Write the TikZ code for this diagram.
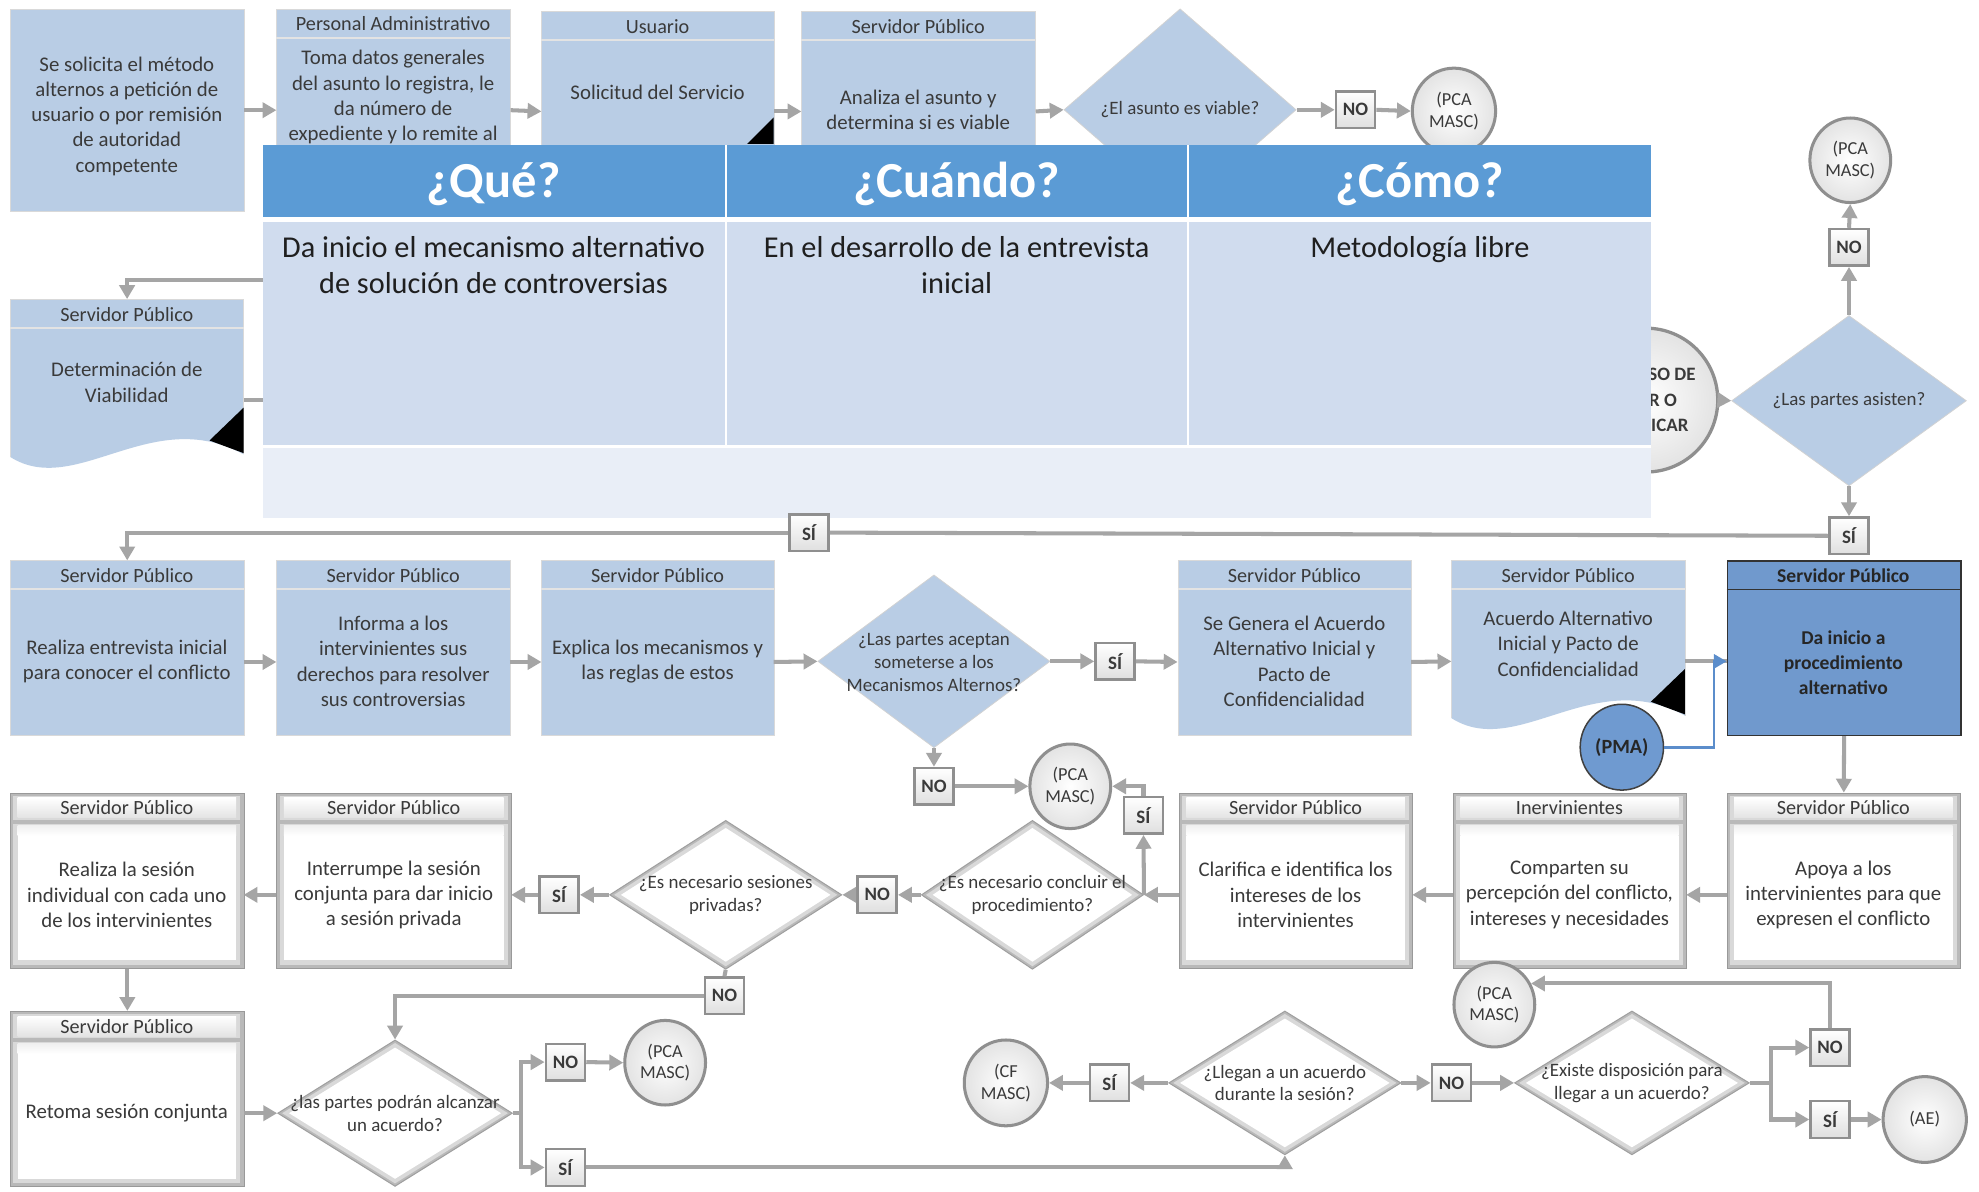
\documentclass[tikz,border=0pt]{standalone}
\usepackage{fontspec}
\setmainfont{Carlito}
\usetikzlibrary{arrows.meta,shapes.geometric,calc}

\definecolor{boxblue}{HTML}{B9CDE5}
\definecolor{hdrblue}{HTML}{5B9BD5}
\definecolor{cellblue}{HTML}{D0DCEE}
\definecolor{footblue}{HTML}{E9EEF7}
\definecolor{deepblue}{HTML}{7099CD}
\definecolor{pmablue}{HTML}{6F9AD0}
\definecolor{linkblue}{HTML}{5B8DCB}
\definecolor{arrowgray}{HTML}{A5A5A5}
\definecolor{txtgray}{HTML}{3A3A3A}
\definecolor{rimgray}{HTML}{8F8F8F}

\tikzset{
  flow/.style={draw=arrowgray, line width=3.2pt, -{Triangle[length=11pt,width=12pt]}},
  plain/.style={draw=arrowgray, line width=3.2pt},
  boxtext/.style={text=txtgray, font=\fontsize{16.5}{20}\selectfont, align=center, inner sep=0pt},
  hdrtext/.style={text=txtgray, font=\fontsize{16}{18}\selectfont, inner sep=0pt},
  dtext/.style={text=txtgray, font=\fontsize{15}{18}\selectfont, align=center, inner sep=0pt},
  tbltext/.style={text=black!88, font=\fontsize{24}{29}\selectfont, align=center, inner sep=0pt},
  tblhead/.style={rectangle, fill=hdrblue, inner sep=0pt, anchor=north west, minimum height=57pt},
  tblheadtext/.style={text=white, font=\bfseries\fontsize{40}{44}\selectfont, inner sep=0pt},
  tblcell/.style={rectangle, fill=cellblue, inner sep=0pt, anchor=north west, minimum height=176pt},
  tag/.style={rectangle, minimum width=31pt, minimum height=29pt, draw=rimgray, line width=2pt,
    top color=white, bottom color=gray!25, text=txtgray, font=\bfseries\fontsize{15}{17}\selectfont, inner sep=0pt},
  term/.style={ellipse, minimum width=64pt, minimum height=67pt, draw=rimgray, line width=2.4pt,
    inner color=white, outer color=gray!22, text=txtgray, font=\fontsize{14.5}{17}\selectfont,
    align=center, inner sep=0pt},
  bluediamond/.style={diamond, inner sep=0pt, fill=boxblue, draw=gray!35, line width=0.6pt},
}

% light blue process box with header band
% #1 name, #2 x1, #3 y1, #4 x2, #5 y2, #6 header, #7 text centre y, #8 body text
\newcommand\bluebox[8]{%
  \node[rectangle, fill=boxblue, draw=gray!30, line width=0.6pt, inner sep=0pt,
        minimum width={#4-#2}, minimum height={#5-#3}, anchor=north west] (#1) at (#2,#3) {};
  \draw[gray!22, line width=1.6pt] (#2,#3+23) -- (#4,#3+23);
  \node[hdrtext] (#1-h) at ({(#2+#4)/2},#3+12) {#6};
  \coordinate (#1-l) at (#2,{(#3+23+#5)/2});
  \coordinate (#1-r) at (#4,{(#3+23+#5)/2});
  \node[boxtext] (#1-t) at ({(#2+#4)/2},#7) {#8};
}

% light blue document box with wavy bottom and corner marker
% #1 name, #2 x1, #3 y1, #4 x2, #5 bottom of left edge, #6 header, #7 text centre y, #8 body text
\newcommand\docbox[8]{%
  \node[rectangle, inner sep=0pt, minimum width={#4-#2}, minimum height={#5-#3},
        anchor=north west] (#1) at (#2,#3) {};
  \fill[boxblue] (#2,#3) -- (#4,#3) -- (#4,#5-2)
     .. controls (#2+112,#5-42) and (#2+52,#5+33) .. (#2,#5) -- cycle;
  \draw[gray!30, line width=0.6pt] (#2,#5) -- (#2,#3) -- (#4,#3) -- (#4,#5-2);
  \draw[gray!22, line width=1.6pt] (#2,#3+23) -- (#4,#3+23);
  \fill[black] (#4,#5-39) -- (#4,#5-3) -- (#4-27,#5-13) -- cycle;
  \node[hdrtext] (#1-h) at ({(#2+#4)/2},#3+12) {#6};
  \node[boxtext] (#1-t) at ({(#2+#4)/2},#7) {#8};
}

% bevelled white process box with header band
% #1 name, #2 x1, #3 y1, #4 x2, #5 y2, #6 header, #7 body text
\newcommand\bevbox[7]{%
  \node[rectangle, fill=gray!55, draw=gray!80, line width=0.8pt, inner sep=0pt,
        minimum width={#4-#2}, minimum height={#5-#3}, anchor=north west] (#1) at (#2,#3) {};
  \fill[gray!30] (#2+2.5,#3+2.5) rectangle (#4-2.5,#5-2.5);
  \shade[top color=white, bottom color=gray!22] (#2+6,#3+4) rectangle (#4-6,#3+20);
  \fill[gray!55] (#2+2.5,#3+21.5) rectangle (#4-2.5,#3+24.5);
  \shade[top color=gray!12, bottom color=white] (#2+6,#3+26) rectangle (#4-6,#3+34);
  \fill[white] (#2+6,#3+34) rectangle (#4-6,#5-6);
  \node[hdrtext] (#1-h) at ({(#2+#4)/2},#3+12) {#6};
  \coordinate (#1-l) at (#2,{(#3+23+#5)/2});
  \coordinate (#1-r) at (#4,{(#3+23+#5)/2});
  \node[boxtext] (#1-t) at ({(#2+#4)/2},{(#3+23+#5)/2}) {#7};
}

% bevelled white decision diamond
% #1 name, #2 cx, #3 cy, #4 half width, #5 half height, #6 text
\newcommand\bevdiamond[6]{%
  \node[diamond, inner sep=0pt, minimum width={2*#4}, minimum height={2*#5},
        fill=gray!55, draw=gray!75, line width=0.8pt] (#1) at (#2,#3) {};
  \fill[gray!30] (#2-#4+3.6,#3) -- (#2,#3-#5+2.4) -- (#2+#4-3.6,#3) -- (#2,#3+#5-2.4) -- cycle;
  \fill[white] (#2-#4+9,#3) -- (#2,#3-#5+6) -- (#2+#4-9,#3) -- (#2,#3+#5-6) -- cycle;
  \node[dtext] (#1-t) at (#2,#3) {#6};
}

\begin{document}
\begin{tikzpicture}[x=1pt, y=-1pt]
\useasboundingbox (0,0) rectangle (1568,944);
\fill[white] (0,0) rectangle (1568,944);

% ---------- first row: request and viability ----------
\node[rectangle, fill=boxblue, draw=gray!30, line width=0.6pt, inner sep=0pt,
      minimum width=185pt, minimum height=160pt, anchor=north west] (A) at (8,7) {};
\node[boxtext] (A-t) at (100.5,92) {Se solicita el método\\alternos a petición de\\usuario o por remisión\\de autoridad\\competente};

\bluebox{B}{219}{7}{404}{167}{Personal Administrativo}{77}{Toma datos generales\\del asunto lo registra, le\\da número de\\expediente y lo remite al}
\bluebox{C}{429}{9}{613}{167}{Usuario}{73}{Solicitud del Servicio}
\fill[black] (613,93) -- (613,114) -- (592,114) -- cycle;
\bluebox{D}{635}{9}{820}{167}{Servidor Público}{87}{Analiza el asunto y\\determina si es viable}

\node[bluediamond, minimum width=184pt, minimum height=160pt] (D1) at (935,87) {};
\node[dtext] (D1-t) at (935,87) {¿El asunto es viable?};
\node[tag] (NO1) at (1074,87) {NO};
\node[term, minimum width=66pt, minimum height=68pt] (PCA1) at (1152,88) {(PCA\\MASC)};

\draw[flow] (A.east) -- (B.west);
\draw[flow] (B.east) -- (C.west);
\draw[flow] (C.east) -- (D.west);
\draw[flow] (D.east) -- (D1.west);
\draw[flow] (D1.east) -- (NO1.west);
\draw[flow] (NO1.east) -- (PCA1.west);

% summons circle, partly behind the table
\node[ellipse, minimum width=114pt, minimum height=114pt, draw=rimgray, line width=2.6pt,
      inner color=white, outer color=gray!22, text=txtgray, align=center, inner sep=0pt,
      font=\bfseries\fontsize{15}{20}\selectfont] (PROC) at (1304,317) {PROCESO DE\\CITAR O\\NOTIFICAR};

% ---------- what / when / how table ----------
\fill[white] (208,115) rectangle (1308,410);
\node[tblhead, minimum width=366pt] (Q1) at (208,115) {};
\node[tblhead, minimum width=364pt] (Q2) at (576,115) {};
\node[tblhead, minimum width=366pt] (Q3) at (942,115) {};
\node[tblheadtext] (Q1-t) at (391,146) {¿Qué?};
\node[tblheadtext] (Q2-t) at (758,146) {¿Cuándo?};
\node[tblheadtext] (Q3-t) at (1125,146) {¿Cómo?};
\node[tblcell, minimum width=366pt] (C1) at (208,176) {};
\node[tblcell, minimum width=364pt] (C2) at (576,176) {};
\node[tblcell, minimum width=366pt] (C3) at (942,176) {};
\node[tbltext, anchor=north] (C1-t) at (391,187) {Da inicio el mecanismo alternativo\\de solución de controversias};
\node[tbltext, anchor=north] (C2-t) at (758,187) {En el desarrollo de la entrevista\\inicial};
\node[tbltext, anchor=north] (C3-t) at (1125,187) {Metodología libre};
\node[rectangle, fill=footblue, inner sep=0pt, anchor=north west,
      minimum width=1100pt, minimum height=55pt] (FOOT) at (208,355) {};

% ---------- viability document and attendance ----------
\docbox{E}{8}{237}{193}{362}{Servidor Público}{303}{Determinación de\\Viabilidad}
\coordinate (tblL1) at (208,222);
\coordinate (tblL2) at (208,317);
\coordinate (E-r) at (193,317);
\draw[flow] (tblL1) -| (E.north);
\draw[plain] (E-r) -- (tblL2);

\node[bluediamond, minimum width=186pt, minimum height=135pt] (D2) at (1465,317.5) {};
\node[dtext] (D2-t) at (1465,317.5) {¿Las partes asisten?};
\node[tag] (NO2) at (1465,196) {NO};
\node[term] (PCA2) at (1466,127) {(PCA\\MASC)};
\node[tag] (SI2) at (1465,424.5) {SÍ};
\node[tag] (SI3) at (641,422) {SÍ};

\draw[flow] (PROC.east) -- (D2.west);
\draw[flow] (D2.north) -- (NO2.south);
\draw[flow] (NO2.north) -- (PCA2.south);
\draw[flow] (D2.south) -- (SI2.north);
\draw[plain] (SI2.west) -- (SI3.east);

% ---------- second row: initial interview ----------
\bluebox{F}{8}{444}{193}{582}{Servidor Público}{524}{Realiza entrevista inicial\\para conocer el conflicto}
\bluebox{G}{219}{444}{404}{582}{Servidor Público}{524}{Informa a los\\intervinientes sus\\derechos para resolver\\sus controversias}
\bluebox{H}{429}{444}{613}{582}{Servidor Público}{524}{Explica los mecanismos y\\las reglas de estos}
\node[bluediamond, minimum width=184pt, minimum height=137pt] (D3) at (740,524) {};
\node[dtext] (D3-t) at (740,525) {¿Las partes aceptan\\someterse a los\\Mecanismos Alternos?};
\node[tag] (SI4) at (883.5,524) {SÍ};
\bluebox{I}{933}{444}{1118}{582}{Servidor Público}{524}{Se Genera el Acuerdo\\Alternativo Inicial y\\Pacto de\\Confidencialidad}
\docbox{J}{1150}{444}{1335}{569}{Servidor Público}{510}{Acuerdo Alternativo\\Inicial y Pacto de\\Confidencialidad}
\coordinate (J-l) at (1150,524);
\coordinate (J-r) at (1335,524);

\node[rectangle, fill=deepblue, draw=black!80, line width=1.2pt, inner sep=0pt,
      minimum width=185pt, minimum height=138pt, anchor=north west] (K) at (1368,444) {};
\draw[black!80, line width=1.2pt] (1368,467) -- (1553,467);
\node[hdrtext, text=black!85, font=\bfseries\fontsize{15.5}{18}\selectfont] (K-h) at (1460.5,456) {Servidor Público};
\node[boxtext, text=black!85, font=\bfseries\fontsize{15.5}{20}\selectfont] (K-t) at (1460.5,525) {Da inicio a\\procedimiento\\alternativo};
\coordinate (K-l) at (1368,524);

\node[ellipse, minimum width=66pt, minimum height=68pt, fill=pmablue, draw=black!75, line width=1.2pt,
      text=black!85, font=\bfseries\fontsize{16}{18}\selectfont, inner sep=0pt] (PMA) at (1285,592) {(PMA)};

\draw[flow] (SI3.west) -| (F.north);
\draw[flow] (F-r) -- (G-l);
\draw[flow] (G-r) -- (H-l);
\draw[flow] (H-r) -- (D3.west);
\draw[flow] (D3.east) -- (SI4.west);
\draw[flow] (SI4.east) -- (I-l);
\draw[flow] (I-r) -- (J-l);
\draw[plain] (J-r) -- (K-l);
\draw[draw=linkblue, line width=2.2pt, -{Triangle[length=10pt,width=11pt]}]
  (PMA.east) -| ([xshift=-10pt]K-l) -- (K-l);

% ---------- third row: joint session ----------
\bevbox{L}{1368}{628}{1553}{767}{Servidor Público}{Apoya a los\\intervinientes para que\\expresen el conflicto}
\bevbox{M}{1151}{628}{1336}{767}{Inervinientes}{Comparten su\\percepción del conflicto,\\intereses y necesidades}
\bevbox{N}{934}{628}{1119}{767}{Servidor Público}{Clarifica e identifica los\\intereses de los\\intervinientes}
\bevdiamond{D4}{818}{709}{88}{59}{¿Es necesario concluir el\\procedimiento?}
\node[tag] (SI5) at (906,646) {SÍ};
\node[term] (PCA3) at (848,623) {(PCA\\MASC)};
\node[tag] (NO5) at (740,623) {NO};
\node[tag] (NO3) at (695,709) {NO};
\bevdiamond{D5}{575}{709}{92}{59}{¿Es necesario sesiones\\privadas?}
\node[tag] (SI6) at (443,709) {SÍ};
\bevbox{O}{219}{628}{405}{767}{Servidor Público}{Interrumpe la sesión\\conjunta para dar inicio\\a sesión privada}
\bevbox{P}{8}{628}{193}{767}{Servidor Público}{Realiza la sesión\\individual con cada uno\\de los intervinientes}
\node[tag] (NO4) at (574,789) {NO};

\draw[flow] (K.south) -- (L.north);
\draw[flow] (L-l) -- (M-r);
\draw[flow] (M-l) -- (N-r);
\draw[flow] (N-l) -- (D4.east);
\draw[flow] (D4.east) -- (SI5.south);
\draw[flow] (SI5.north) |- (PCA3.east);
\draw[flow] (D3.south) -- (NO5.north);
\draw[flow] (NO5.east) -- (PCA3.west);
\draw[flow] (D4.west) -- (NO3.east);
\draw[flow] (NO3.west) -- (D5.east);
\draw[flow] (D5.west) -- (SI6.east);
\draw[flow] (SI6.west) -- (O-r);
\draw[flow] (O-l) -- (P-r);
\draw[plain] (D5.south) -- (NO4.north);

% ---------- fourth row: agreement ----------
\bevbox{Q}{8}{801}{193}{940}{Servidor Público}{Retoma sesión conjunta}
\bevdiamond{D6}{313}{882}{93}{58}{¿las partes podrán alcanzar\\un acuerdo?}
\node[tag] (NO6) at (448,841.5) {NO};
\node[tag] (SI7) at (448,925) {SÍ};
\node[term] (PCA4) at (527,842) {(PCA\\MASC)};
\bevdiamond{D7}{1018}{858}{92}{57}{¿Llegan a un acuerdo\\durante la sesión?}
\node[tag] (SI8) at (879,858) {SÍ};
\node[term, minimum width=66pt, minimum height=68pt] (CF) at (797,858) {(CF\\MASC)};
\node[tag] (NO7) at (1150,858) {NO};
\bevdiamond{D8}{1293}{858}{93}{57}{¿Existe disposición para\\llegar a un acuerdo?}
\node[tag] (NO8) at (1450,830) {NO};
\node[tag] (SI9) at (1450,887) {SÍ};
\node[term] (PCA5) at (1184,796) {(PCA\\MASC)};
\node[term, minimum width=66pt, minimum height=68pt] (AE) at (1525,887) {(AE)};
\coordinate (br1) at (413,882);
\coordinate (br2) at (1403,858);

\draw[flow] (P.south) -- (Q.north);
\draw[flow] (NO4.west) -| (D6.north);
\draw[flow] (Q-r) -- (D6.west);
\draw[plain] (D6.east) -- (br1);
\draw[flow] (br1) |- (NO6.west);
\draw[flow] (br1) |- (SI7.west);
\draw[flow] (NO6.east) -- (PCA4.west);
\draw[flow] (SI7.east) -| (D7.south);
\draw[flow] (D7.west) -- (SI8.east);
\draw[flow] (SI8.west) -- (CF.east);
\draw[flow] (D7.east) -- (NO7.west);
\draw[flow] (NO7.east) -- (D8.west);
\draw[plain] (D8.east) -- (br2);
\draw[flow] (br2) |- (NO8.west);
\draw[flow] (br2) |- (SI9.west);
\draw[flow] (NO8.north) |- (PCA5.30);
\draw[flow] (SI9.east) -- (AE.west);
\end{tikzpicture}
\end{document}
